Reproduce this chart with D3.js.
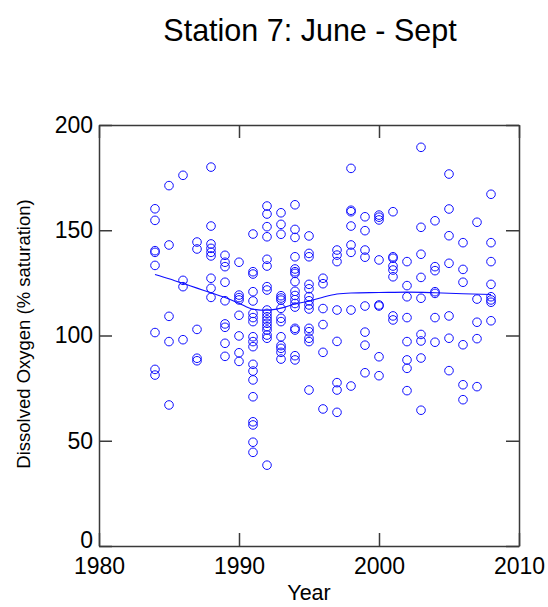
<!DOCTYPE html>
<html>
<head>
<meta charset="utf-8">
<script src="https://cdn.jsdelivr.net/npm/d3@7"></script>
<style>
  html, body { margin: 0; padding: 0; background: #fff; }
  svg { display: block; }
  text { font-family: "Liberation Sans", Arial, Helvetica, sans-serif; fill: #000; }
</style>
</head>
<body>
<svg id="chart" width="548" height="607"></svg>
<script>
// Sampling years and the dissolved-oxygen readings taken in each (% saturation)
const years = [1984, 1985, 1986, 1987, 1988, 1989, 1990, 1991, 1992, 1993, 1994, 1995,
               1996, 1997, 1998, 1999, 2000, 2001, 2002, 2003, 2004, 2005, 2006, 2007, 2008];

const saturation = [
  [160.2, 154.7, 140.3, 139.5, 133.3, 101.4, 83.9, 81.2],
  [171.2, 143.0, 109.1, 97.1, 67.0],
  [176.1, 126.2, 123.2, 98.0],
  [144.4, 141.1, 102.9, 89.2, 88.0],
  [180.0, 152.0, 143.5, 141.4, 139.5, 137.8, 127.2, 122.4, 118.1],
  [138.1, 134.8, 132.7, 125.3, 116.5, 105.5, 103.9, 96.3, 90.1],
  [134.8, 119.2, 118.0, 116.9, 109.6, 99.8, 91.8, 87.7],
  [148.2, 130.3, 129.2, 120.8, 116.4, 110.5, 108.5, 106.6, 99.4, 97.1, 94.7,
   86.3, 83.1, 78.9, 70.9, 59.0, 57.5, 49.3, 44.5],
  [161.5, 157.7, 151.7, 146.9, 136.2, 133.0, 123.2, 121.6, 112.1, 110.5, 108.9,
   107.4, 105.8, 104.2, 102.6, 100.2, 98.7, 38.4],
  [158.3, 152.8, 148.1, 118.9, 117.8, 116.8, 112.9, 108.2, 106.6, 99.4, 95.2,
   93.9, 92.0, 88.8],
  [162.1, 150.4, 146.6, 137.4, 131.6, 130.3, 129.5, 125.6, 121.0, 119.0, 117.0,
   115.2, 113.5, 103.4, 102.6, 90.4, 88.4],
  [147.3, 139.0, 137.4, 124.3, 122.2, 118.5, 116.5, 114.5, 112.6, 103.4, 101.8,
   98.7, 97.1, 74.1],
  [127.2, 124.6, 112.8, 105.2, 92.0, 65.1],
  [140.6, 138.2, 135.1, 112.1, 97.2, 77.6, 74.1, 63.5],
  [179.4, 159.5, 158.8, 152.0, 143.0, 139.5, 112.1, 76.0],
  [156.4, 149.8, 140.6, 137.2, 114.0, 101.6, 95.4, 82.3],
  [157.2, 156.2, 154.9, 135.9, 114.5, 114.0, 89.9, 80.9],
  [158.8, 137.4, 136.7, 133.0, 131.1, 127.9, 109.3, 107.4],
  [135.1, 123.7, 118.4, 108.5, 97.1, 88.4, 84.4, 73.8],
  [189.4, 151.4, 138.6, 127.6, 117.7, 100.5, 97.4, 89.3, 64.5],
  [154.5, 132.7, 130.8, 120.8, 120.0, 108.5, 96.8],
  [176.7, 160.1, 147.4, 134.3, 109.3, 98.7, 83.3],
  [144.1, 131.4, 125.3, 95.6, 76.6, 69.5],
  [153.8, 117.3, 106.3, 98.5, 75.7],
  [167.1, 144.1, 135.1, 124.3, 118.4, 116.9, 115.8, 107.0]
];

// Smoothed trend through the readings
const trendYears = [1984, 1985, 1986, 1987, 1988, 1989, 1990, 1991, 1992, 1993, 1994,
                    1995, 1996, 1997, 1998, 2000, 2002, 2004, 2006, 2008];
const trendValues = [129.0, 127.0, 124.8, 122.5, 120.3, 118.0, 115.3, 112.5, 112.0, 113.0,
                     115.0, 116.3, 118.2, 119.7, 120.2, 120.4, 120.6, 120.3, 119.8, 119.5];

const xTicks = [1980, 1990, 2000, 2010];
const yTicks = [0, 50, 100, 150, 200];

const titleText = "Station 7: June - Sept";
const xLabel = "Year";
const yLabel = "Dissolved Oxygen (% saturation)";

// Layout
const margin = { left: 99, right: 29, top: 125, bottom: 61 };
const W = 548, H = 607;
const plotW = W - margin.left - margin.right;
const plotH = H - margin.top - margin.bottom;

const svg = d3.select("#chart");

const x = d3.scaleLinear().domain([1980, 2010]).range([margin.left, margin.left + plotW]);
const y = d3.scaleLinear().domain([0, 200]).range([margin.top + plotH, margin.top]);

const points = [];
years.forEach((yr, i) => saturation[i].forEach(v => points.push({ year: yr, value: v })));

// Scatter of individual readings
svg.append("g")
  .selectAll("circle")
  .data(points)
  .join("circle")
  .attr("cx", d => x(d.year))
  .attr("cy", d => y(d.value))
  .attr("r", 4.3)
  .attr("fill", "none")
  .attr("stroke", "#0f0fff")
  .attr("stroke-width", 1);

// Trend line
const line = d3.line()
  .x((d, i) => x(trendYears[i]))
  .y(d => y(d))
  .curve(d3.curveMonotoneX);

svg.append("path")
  .attr("d", line(trendValues))
  .attr("fill", "none")
  .attr("stroke", "#0f0fff")
  .attr("stroke-width", 1.1);

// Axes: ticks point inward on all four sides
const axisColor = "#3a3a3a";
const tickLen = 13;
const fontSize = 23;

function styleAxis(g) {
  g.selectAll("path.domain").attr("stroke", axisColor).attr("stroke-width", 1.5);
  g.selectAll(".tick line").attr("stroke", axisColor).attr("stroke-width", 1.5);
  g.selectAll(".tick text")
    .attr("font-size", fontSize)
    .attr("font-family", "Liberation Sans, Arial, sans-serif")
    .attr("fill", "#000");
}

svg.append("g")
  .attr("transform", `translate(0,${margin.top + plotH})`)
  .call(d3.axisBottom(x).tickValues(xTicks).tickFormat(d3.format("d"))
    .tickSizeInner(-tickLen).tickSizeOuter(0).tickPadding(12))
  .call(styleAxis);

svg.append("g")
  .attr("transform", `translate(0,${margin.top})`)
  .call(d3.axisTop(x).tickValues(xTicks).tickFormat("")
    .tickSizeInner(-tickLen).tickSizeOuter(0))
  .call(styleAxis);

const leftAxis = svg.append("g")
  .attr("transform", `translate(${margin.left},0)`)
  .call(d3.axisLeft(y).tickValues(yTicks).tickFormat(d3.format("d"))
    .tickSizeInner(-tickLen).tickSizeOuter(0).tickPadding(6))
  .call(styleAxis);

// lift the zero label so it clears the year labels beneath it
leftAxis.selectAll(".tick text")
  .filter(d => d === 0)
  .attr("dy", "0.05em");

svg.append("g")
  .attr("transform", `translate(${margin.left + plotW},0)`)
  .call(d3.axisRight(y).tickValues(yTicks).tickFormat("")
    .tickSizeInner(-tickLen).tickSizeOuter(0))
  .call(styleAxis);

// Title and axis labels
svg.append("text")
  .attr("x", 310)
  .attr("y", 41)
  .attr("text-anchor", "middle")
  .attr("font-size", 30.5)
  .text(titleText);

svg.append("text")
  .attr("x", x(1995))
  .attr("y", 600)
  .attr("text-anchor", "middle")
  .attr("font-size", 21.5)
  .text(xLabel);

svg.append("text")
  .attr("transform", `translate(30,334) rotate(-90)`)
  .attr("text-anchor", "middle")
  .attr("font-size", 18.5)
  .text(yLabel);
</script>
</body>
</html>
